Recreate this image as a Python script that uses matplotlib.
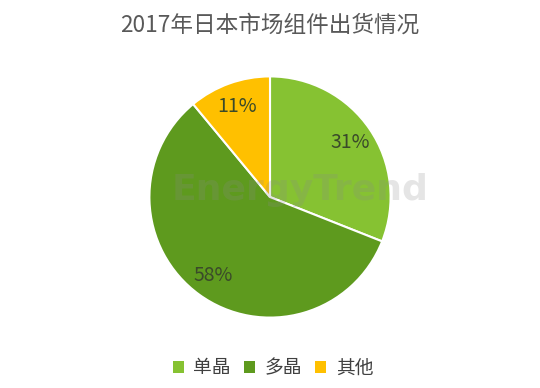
import matplotlib
matplotlib.use("Agg")
import matplotlib.pyplot as plt
from matplotlib.patches import Patch

plt.rcParams['font.family'] = ['Noto Sans CJK SC', 'DejaVu Sans']

categories = ['单晶', '多晶', '其他']
values = [31, 58, 11]
colors = ['#86C232', '#5E9A1E', '#FFC000']
title = '2017年日本市场组件出货情况'

W, H = 540, 388
fig = plt.figure(figsize=(W / 100, H / 100), dpi=100)
fig.patch.set_facecolor('white')

cx, cy, r = 270, 197, 123
ax = fig.add_axes([(cx - r) / W, (H - cy - r) / H, 2 * r / W, 2 * r / H])
wedges, texts, autotexts = ax.pie(
    values, colors=colors, startangle=90, counterclock=False,
    autopct='%d%%', pctdistance=0.80, radius=1,
    wedgeprops=dict(edgecolor='white', linewidth=1.5),
    textprops=dict(color='#3A4A2A', fontsize=14))
ax.set_xlim(-1.02, 1.02)
ax.set_ylim(-1.02, 1.02)
ax.set_aspect('equal')
ax.axis('off')

# faint watermark
fig.text(300 / W, 1 - 190 / H, 'EnergyTrend', ha='center', va='center', fontsize=26,
         fontweight='bold', color='#8A8A8A', alpha=0.22, family='DejaVu Sans')

fig.text(0.5, 1 - 25 / H, title, ha='center', va='center', fontsize=16.3,
         color='#595959')

handles = [Patch(facecolor=c, edgecolor='none') for c in colors]
fig.legend(handles, categories, loc='center', bbox_to_anchor=(273 / W, 1 - 368 / H),
           ncol=3, frameon=False, fontsize=13.5, handlelength=0.6,
           handleheight=0.6, handletextpad=0.5, columnspacing=0.7,
           labelcolor='#404040')

fig.savefig('out.png', dpi=100)
